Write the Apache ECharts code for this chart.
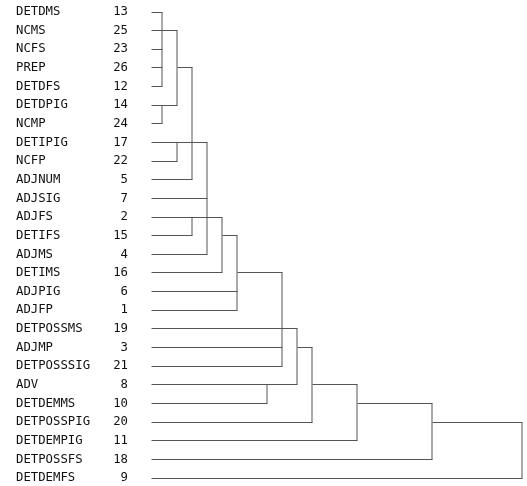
<!DOCTYPE html>
<html><head><meta charset="utf-8">
<script src="https://cdn.jsdelivr.net/npm/echarts@6/dist/echarts.min.js"></script>
<style>html,body{margin:0;padding:0;background:#fff}#c{width:527px;height:486px}</style>
</head><body><div id="c"></div>
<script>
// Leaf labels (top to bottom) and case numbers
const names = ['DETDMS','NCMS','NCFS','PREP','DETDFS','DETDPIG','NCMP','DETIPIG','NCFP','ADJNUM','ADJSIG','ADJFS','DETIFS','ADJMS','DETIMS','ADJPIG','ADJFP','DETPOSSMS','ADJMP','DETPOSSSIG','ADV','DETDEMMS','DETPOSSPIG','DETDEMPIG','DETPOSSFS','DETDEMFS'];
const caseIds = [13,25,23,26,12,14,24,17,22,5,7,2,15,4,16,6,1,19,3,21,8,10,20,11,18,9];
// Rescaled distance at which each leaf's line ends
const leafStart = 0.33;
const leafEnd = [1,2,1,1,1,2,1,4,2,3,4,5,3,4,5,6,6,10,9,9,10,8,11,14,19,25];
// Merge verticals: [distance, firstRow, lastRow]
const merges = [[1,0,4],[1,5,6],[2,1,5],[2,7,8],[3,3,9],[4,7,13],[3,11,12],[5,11,14],[6,12,16],[9,14,19],[10,17,20],[8,20,21],[11,18,22],[14,20,23],[19,21,24],[25,22,25]];
// Cluster connector horizontals: [row, fromDistance, toDistance]
const connectors = [[3,2,3],[12,5,6],[14,6,9],[18,10,11],[20,11,14],[21,14,19],[22,19,25]];

const segs = [];
leafEnd.forEach((e,i)=>segs.push([leafStart,i,e,i]));
connectors.forEach(c=>segs.push([c[1],c[0],c[2],c[0]]));
merges.forEach(m=>segs.push([m[0],m[1],m[0],m[2]]));

const chart = echarts.init(document.getElementById('c'));
const font = 'DejaVu Sans Mono';
chart.setOption({
  animation:false,
  backgroundColor:'#fff',
  grid:{left:147,top:12,width:375,height:466},
  xAxis:{type:'value',min:0,max:25,show:false},
  yAxis:[
    {type:'category',data:names,inverse:true,boundaryGap:false,position:'left',
     axisLine:{show:false},axisTick:{show:false},splitLine:{show:false},
     axisLabel:{align:'left',margin:131,fontFamily:font,fontSize:12.3,color:'#111',interval:0}},
    {type:'category',data:caseIds.map(String),inverse:true,boundaryGap:false,position:'left',
     axisLine:{show:false},axisTick:{show:false},splitLine:{show:false},
     axisLabel:{align:'right',margin:19,fontFamily:font,fontSize:12.3,color:'#111',interval:0}},
    {type:'value',min:0,max:25,inverse:true,show:false}
  ],
  series:[{
    type:'custom',yAxisIndex:2,clip:false,data:segs,
    renderItem:function(params,api){
      const a=api.coord([api.value(0),api.value(1)]);
      const b=api.coord([api.value(2),api.value(3)]);
      const vertical = api.value(0)===api.value(2);
      const r=v=>Math.round(v-0.5)+0.5;
      if(vertical){
        const x=Math.round(a[0]);
        return {type:'line',shape:{x1:x,y1:r(a[1]),x2:x,y2:r(b[1])},
          style:{stroke:'#555',lineWidth:1}};
      }
      return {type:'line',shape:{x1:r(a[0]),y1:r(a[1]),x2:r(b[0]),y2:r(b[1])},
        style:{stroke:'#555',lineWidth:1}};
    }
  }]
});
</script></body></html>
